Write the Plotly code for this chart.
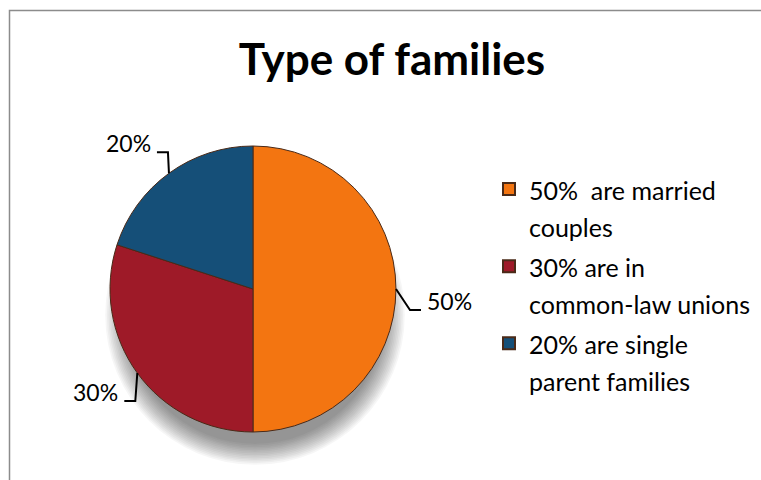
import math
import plotly.graph_objects as go

categories = ["50%  are married<br>couples", "30% are in<br>common-law unions", "20% are single<br>parent families"]
values = [50, 30, 20]
colors = ["#F37511", "#9E1A28", "#154F78"]
title_text = "Type of families"

W, H = 761, 480
cx, cy, r = 253, 289, 143
FONT = "Lato"

# leader-line elbow offsets (px) per slice
elbow = [(14, 21), (-2, 28), (-1, -21)]
tail = 11

def px(x):
    return x / W

def py(y):
    return 1 - y / H

span = "<span style='font-size:25px'>"
leg_labels = [span + c.replace("<br>", "</span><br>" + span) + "</span>" for c in categories]

fig = go.Figure(go.Pie(
    labels=leg_labels,
    values=values,
    sort=False,
    direction="clockwise",
    rotation=0,
    marker=dict(colors=colors, line=dict(color="#4a2a18", width=1)),
    textinfo="none",
    domain=dict(x=[px(cx - r), px(cx + r)], y=[py(cy + r), py(cy - r)]),
    automargin=False,
    hoverinfo="percent",
))

# soft shadow under the pie
shapes = []
for k in range(14):
    rr = r - 14 + k * 1.6
    scx, scy = cx + 2, cy + 26
    shapes.append(dict(type="circle", xref="paper", yref="paper", layer="below",
                       x0=px(scx - rr), x1=px(scx + rr), y0=py(scy + rr), y1=py(scy - rr),
                       fillcolor="rgba(0,0,0,0.035)", line=dict(width=0)))

# chart border
shapes.append(dict(type="rect", xref="paper", yref="paper",
                   x0=px(9.5), x1=1.05, y0=-0.05, y1=py(10.5),
                   line=dict(color="#8c8c8c", width=1.5), layer="below"))

annotations = []
total = sum(values)
cum = 0
for i, v in enumerate(values):
    mid = (cum + v / 2) / total * 2 * math.pi
    cum += v
    ex = cx + r * math.sin(mid)
    ey = cy - r * math.cos(mid)
    bx, by = ex + elbow[i][0], ey + elbow[i][1]
    side = 1 if math.sin(mid) >= 0 else -1
    tx = bx + side * tail
    shapes.append(dict(type="path", xref="paper", yref="paper",
                       path="M %f,%f L %f,%f L %f,%f" % (px(ex), py(ey), px(bx), py(by), px(tx), py(by)),
                       line=dict(color="#000000", width=2)))
    annotations.append(dict(xref="paper", yref="paper", x=px(tx + side * 4), y=py(by + 7),
                            xanchor="left" if side > 0 else "right", yanchor="bottom",
                            text="%d%%" % round(v / total * 100), showarrow=False,
                            font=dict(family=FONT, size=23, color="#000000")))

fig.update_layout(
    width=W, height=H,
    margin=dict(l=0, r=0, t=0, b=0),
    paper_bgcolor="white",
    plot_bgcolor="white",
    title=dict(text="<b>" + title_text + "</b>", x=px(392), xanchor="center",
               y=py(60), yanchor="middle",
               font=dict(family=FONT, size=44, color="#000000")),
    legend=dict(x=px(489), y=py(164), xanchor="left", yanchor="top",
                valign="top", font=dict(family=FONT, size=28.5, color="#000000"),
                itemsizing="constant"),
    shapes=shapes,
    annotations=annotations,
)

fig.write_html("out.html", config={"displayModeBar": False},
               post_script="document.body.style.margin='0px';document.body.style.overflow='hidden';")
